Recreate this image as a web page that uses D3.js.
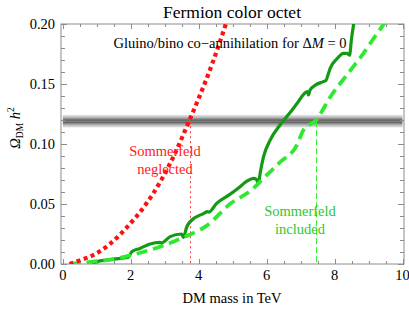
<!DOCTYPE html>
<html>
<head>
<meta charset="utf-8">
<script src="https://cdnjs.cloudflare.com/ajax/libs/d3/7.8.5/d3.min.js"></script>
<style>
body { margin: 0; background: #fff; }
</style>
</head>
<body>
<div id="chart"></div>
<script>
var width = 409;
var height = 310;

// frame of the plot (px)
var frame = {left: 61, right: 404, top: 24, bottom: 264};

// Sommerfeld neglected (red dotted)
var neglected_m = [0.2, 0.5, 0.9, 1.4, 1.9, 2.4, 2.9, 3.3, 3.73, 4.0, 4.4, 4.8];
var neglected_v = [0, 0.003, 0.0075, 0.017, 0.031, 0.048, 0.07, 0.092, 0.12, 0.138, 0.167, 0.2];

// Sommerfeld included, dashed
var included_m = [0.2, 0.9, 1.5, 2.03, 2.86, 3.6, 4.24, 4.92, 5.61, 5.76, 6.0, 6.4, 6.89, 7.08, 7.46, 7.87, 8.36, 8.85, 9.2, 9.5];
var included_v = [0, 0.002, 0.004, 0.0075, 0.0144, 0.0228, 0.032, 0.05, 0.063, 0.0672, 0.074, 0.085, 0.099, 0.1115, 0.12, 0.139, 0.1575, 0.1756, 0.19, 0.202];

// Sommerfeld included, full (solid)
var full_m = [0.85, 1.0, 1.5, 1.93, 2.03, 2.27, 2.57, 2.86, 2.9, 3.16, 3.5, 3.55, 3.65, 3.75, 4.14, 4.26, 4.3, 4.53, 4.92, 5.2, 5.42, 5.61, 5.7, 5.76, 5.81, 5.91, 6.1, 6.4, 6.74, 6.89, 7.2, 7.23, 7.28, 7.43, 7.67, 7.75, 7.8, 7.87, 8.07, 8.26, 8.36, 8.44, 8.5, 8.58];
var full_v = [0, 0.002, 0.004, 0.0056, 0.0103, 0.013, 0.0167, 0.018, 0.0175, 0.0228, 0.025, 0.0222, 0.031, 0.0353, 0.042, 0.0436, 0.0432, 0.0506, 0.058, 0.064, 0.069, 0.0714, 0.0705, 0.0672, 0.0756, 0.0894, 0.103, 0.116, 0.128, 0.1335, 0.1436, 0.141, 0.145, 0.149, 0.152, 0.153, 0.157, 0.163, 0.171, 0.1756, 0.1756, 0.174, 0.188, 0.203];

// observed relic abundance band
var omega_obs = 0.119;
var omega_err = 0.0052;

// where the curves cross the band
var cross_neglected = 3.73;
var cross_included = 7.46;

var x_ticks = [0, 2, 4, 6, 8, 10];
var y_ticks = [0, 0.05, 0.1, 0.15, 0.2];
var y_tick_labels = ["0.00", "0.05", "0.10", "0.15", "0.20"];

var serif = "'Liberation Serif', 'Times New Roman', serif";
var fs = "14.5px";

var x = d3.scaleLinear().domain([0, 10]).range([62.8, 402.5]);
var y = d3.scaleLinear().domain([0, 0.2]).range([frame.bottom, frame.top]);

var svg = d3.select("#chart")
	.append("svg")
	.attr("width", width)
	.attr("height", height)
	.attr("font-family", serif);

var defs = svg.append("defs");
defs.append("clipPath").attr("id", "clip")
	.append("rect")
	.attr("x", frame.left).attr("y", frame.top)
	.attr("width", frame.right - frame.left)
	.attr("height", frame.bottom - frame.top);

var grad = defs.append("linearGradient").attr("id", "band")
	.attr("x1", 0).attr("y1", 0).attr("x2", 0).attr("y2", 1);
[[0, "#e4e4e4"], [0.18, "#bdbdbd"], [0.32, "#8a8a8a"], [0.42, "#5c5c5c"], [0.5, "#8c8c8c"],
 [0.58, "#5c5c5c"], [0.68, "#8a8a8a"], [0.82, "#bdbdbd"], [1, "#e4e4e4"]].forEach(function(s) {
	grad.append("stop").attr("offset", s[0]).attr("stop-color", s[1]);
});

// band
svg.append("rect")
	.attr("x", x(0))
	.attr("y", y(omega_obs + omega_err))
	.attr("width", x(10) - x(0))
	.attr("height", y(omega_obs - omega_err) - y(omega_obs + omega_err))
	.style("fill", "url(#band)");

// frame + ticks
var frame_color = "#8c8c8c";
var axes = svg.append("g");

axes.append("rect")
	.attr("x", frame.left).attr("y", frame.top)
	.attr("width", frame.right - frame.left)
	.attr("height", frame.bottom - frame.top)
	.style("fill", "none")
	.style("stroke", frame_color)
	.style("stroke-width", 1);

var x_minor = d3.range(0, 10.01, 0.5);
var y_minor = d3.range(0, 0.2001, 0.01);

function tickLen(major) { return major ? 5 : 3; }

x_minor.forEach(function(d) {
	var major = Math.abs(d / 2 - Math.round(d / 2)) < 1e-6;
	var px = Math.round(x(d)) + 0.5;
	axes.append("line").attr("x1", px).attr("x2", px)
		.attr("y1", frame.bottom).attr("y2", frame.bottom - tickLen(major))
		.style("stroke", frame_color);
	axes.append("line").attr("x1", px).attr("x2", px)
		.attr("y1", frame.top).attr("y2", frame.top + tickLen(major))
		.style("stroke", frame_color);
});

y_minor.forEach(function(d) {
	var major = Math.abs(d / 0.05 - Math.round(d / 0.05)) < 1e-6;
	var py = Math.round(y(d)) + 0.5;
	axes.append("line").attr("y1", py).attr("y2", py)
		.attr("x1", frame.left).attr("x2", frame.left + tickLen(major) + 1)
		.style("stroke", frame_color);
	axes.append("line").attr("y1", py).attr("y2", py)
		.attr("x1", frame.right).attr("x2", frame.right - tickLen(major) - 1)
		.style("stroke", frame_color);
});

axes.selectAll(".xlab").data(x_ticks)
	.enter().append("text")
	.attr("x", function(d) { return x(d); })
	.attr("y", 280)
	.attr("text-anchor", "middle")
	.style("font-size", fs)
	.text(function(d) { return d; });

axes.selectAll(".ylab").data(y_ticks)
	.enter().append("text")
	.attr("x", 55)
	.attr("y", function(d) { return y(d) + 5; })
	.attr("text-anchor", "end")
	.style("font-size", fs)
	.text(function(d, i) { return y_tick_labels[i]; });

// curves
var plot = svg.append("g").attr("clip-path", "url(#clip)");

function zipPts(ms, vs) {
	return ms.map(function(m, i) { return [m, vs[i]]; });
}

var line = d3.line()
	.x(function(d) { return x(d[0]); })
	.y(function(d) { return y(d[1]); })
	.curve(d3.curveMonotoneX);

// guide lines
plot.append("line")
	.attr("x1", Math.round(x(cross_neglected)) + 0.5).attr("x2", Math.round(x(cross_neglected)) + 0.5)
	.attr("y1", y(omega_obs)).attr("y2", frame.bottom)
	.style("stroke", "#ff4040").style("stroke-width", 1)
	.style("stroke-dasharray", "2,3");

plot.append("line")
	.attr("x1", Math.round(x(cross_included)) + 0.5).attr("x2", Math.round(x(cross_included)) + 0.5)
	.attr("y1", y(omega_obs)).attr("y2", frame.bottom)
	.style("stroke", "#33ee33").style("stroke-width", 1)
	.style("stroke-dasharray", "6,3");

plot.append("path")
	.datum(zipPts(full_m, full_v))
	.attr("d", line)
	.style("fill", "none")
	.style("stroke", "#139a13")
	.style("stroke-width", 3.2)
	.style("stroke-linejoin", "round");

plot.append("path")
	.datum(zipPts(included_m, included_v))
	.attr("d", line)
	.style("fill", "none")
	.style("stroke", "#2eea2e")
	.style("stroke-width", 3.8)
	.style("stroke-dasharray", "11,6");

plot.append("path")
	.datum(zipPts(neglected_m, neglected_v))
	.attr("d", line)
	.style("fill", "none")
	.style("stroke", "#ff1010")
	.style("stroke-width", 4.2)
	.style("stroke-dasharray", "4,3.5");

// texts
svg.append("text")
	.attr("x", 232).attr("y", 18)
	.attr("text-anchor", "middle")
	.style("font-size", "17.5px")
	.text("Fermion color octet");

var note = svg.append("text")
	.attr("x", 230).attr("y", 48)
	.attr("text-anchor", "middle")
	.style("font-size", fs);
note.append("tspan").text("Gluino/bino co\u2212annihilation for \u0394");
note.append("tspan").style("font-style", "italic").text("M");
note.append("tspan").text(" = 0");

var red_lab = svg.append("text")
	.attr("text-anchor", "middle")
	.style("font-size", fs)
	.style("fill", "#ff2020");
red_lab.append("tspan").attr("x", 165).attr("y", 156).text("Sommerfeld");
red_lab.append("tspan").attr("x", 165).attr("y", 174).text("neglected");

var green_lab = svg.append("text")
	.attr("text-anchor", "middle")
	.style("font-size", fs)
	.style("fill", "#2ec82e");
green_lab.append("tspan").attr("x", 300).attr("y", 216).text("Sommerfeld");
green_lab.append("tspan").attr("x", 300).attr("y", 234).text("included");

svg.append("text")
	.attr("x", 232).attr("y", 303)
	.attr("text-anchor", "middle")
	.style("font-size", fs)
	.text("DM mass in TeV");

var ylab = svg.append("text")
	.attr("transform", "translate(20,128) rotate(-90)")
	.attr("text-anchor", "middle")
	.style("font-size", fs);
ylab.append("tspan").style("font-style", "italic").text("\u03a9");
ylab.append("tspan").style("font-size", "9.5px").attr("dy", 3).text("DM");
ylab.append("tspan").style("font-style", "italic").attr("dy", -3).text(" h");
ylab.append("tspan").style("font-size", "9.5px").attr("dy", -6).text("2");
</script>
</body>
</html>
